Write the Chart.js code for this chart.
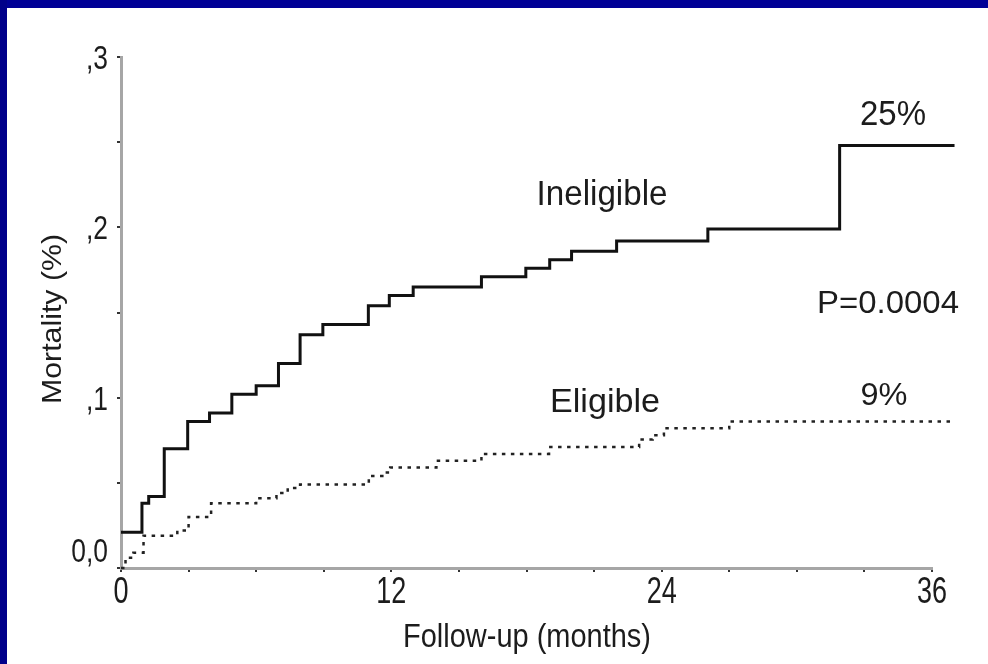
<!DOCTYPE html>
<html>
<head>
<meta charset="utf-8">
<script src="https://cdn.jsdelivr.net/npm/chart.js@4.4.0/dist/chart.umd.min.js"></script>
<style>
  html, body { margin: 0; padding: 0; background: #fff; overflow: hidden; }
  #km-chart { display: block; }
</style>
</head>
<body>
<canvas id="km-chart" width="988" height="664"></canvas>
<script>
// Kaplan-Meier mortality (months, cumulative mortality)
const ineligibleMonths = [0, 0.93, 1.23, 1.92, 2.96, 3.93, 4.92, 6.0, 6.99, 7.95, 8.96, 10.98, 11.91, 12.97, 16.0, 17.97, 19.03, 20.0, 22.0, 26.05, 31.9, 37.0];
const ineligibleMortality = [0.021, 0.038, 0.042, 0.070, 0.086, 0.091, 0.102, 0.107, 0.120, 0.137, 0.143, 0.154, 0.160, 0.165, 0.171, 0.176, 0.181, 0.186, 0.192, 0.199, 0.248, 0.248];

const eligibleMonths = [0, 0.2, 0.55, 1.0, 2.5, 3.0, 4.0, 6.0, 6.9, 7.4, 7.95, 11.0, 11.6, 11.95, 14.0, 16.0, 19.0, 23.0, 23.6, 24.1, 27.0, 37.0];
const eligibleMortality = [0, 0.006, 0.009, 0.019, 0.022, 0.030, 0.038, 0.041, 0.044, 0.047, 0.049, 0.054, 0.056, 0.059, 0.063, 0.067, 0.071, 0.0755, 0.078, 0.082, 0.086, 0.086];

const xTickLabels = [0, 12, 24, 36];
const yTickLabels = [0, 0.1, 0.2, 0.3];

const toPoints = (xs, ys) => xs.map((x, i) => ({ x: x, y: ys[i] }));

const FONT = '"Liberation Sans", Arial, sans-serif';

// canvas text, squeezed or stretched sideways to fit the old scanned look
function drawText(ctx, str, x, y, size, opts) {
  ctx.save();
  ctx.font = size + 'px ' + FONT;
  const w = ctx.measureText(str).width;
  const sx = opts.width ? opts.width / w : (opts.sx || 1);
  ctx.translate(x, y);
  if (opts.rotate) ctx.rotate(opts.rotate);
  ctx.scale(sx, 1);
  ctx.textAlign = opts.align || 'center';
  ctx.textBaseline = 'alphabetic';
  ctx.fillStyle = '#1c1c1c';
  ctx.fillText(str, 0, 0);
  ctx.restore();
}

const frame = {
  id: 'frame',
  beforeDraw(chart) {
    const ctx = chart.ctx;
    ctx.save();
    ctx.fillStyle = '#ffffff';
    ctx.fillRect(0, 0, chart.width, chart.height);
    ctx.fillStyle = '#000096';
    ctx.fillRect(0, 0, chart.width, 8);
    ctx.fillStyle = '#00008a';
    ctx.fillRect(0, 0, 7, chart.height);
    ctx.restore();
  }
};

const labels = {
  id: 'labels',
  afterDraw(chart) {
    const ctx = chart.ctx;
    const xs = chart.scales.x, ys = chart.scales.y;

    xTickLabels.forEach(v => {
      drawText(ctx, String(v), xs.getPixelForValue(v), 603, 36, { sx: 0.75 });
    });
    yTickLabels.forEach(v => {
      const txt = v === 0 ? '0,0' : ',' + Math.round(v * 10);
      const dy = v === 0 ? -6 : 12;
      drawText(ctx, txt, 108, ys.getPixelForValue(v) + dy, 33, { sx: 0.8, align: 'right' });
    });

    drawText(ctx, 'Mortality (%)', 61, 319, 28, { width: 170, rotate: -Math.PI / 2 });
    drawText(ctx, 'Follow-up (months)', 527, 647, 33, { width: 248 });

    drawText(ctx, '25%', 893, 125, 35, { width: 66 });
    drawText(ctx, 'Ineligible', 602, 205, 35, { width: 131 });
    drawText(ctx, 'P=0.0004', 888, 313, 32, { width: 142 });
    drawText(ctx, 'Eligible', 605, 412, 34, { width: 110 });
    drawText(ctx, '9%', 884, 405, 31, { width: 47 });
  }
};

const data = {
  datasets: [{
    label: 'Ineligible',
    data: toPoints(ineligibleMonths, ineligibleMortality),
    borderColor: '#111111',
    borderWidth: 3,
    stepped: true,
    pointRadius: 0,
    fill: false,
    clip: false
  }, {
    label: 'Eligible',
    data: toPoints(eligibleMonths, eligibleMortality),
    borderColor: '#222222',
    borderWidth: 2.5,
    borderDash: [3.5, 5.5],
    stepped: true,
    pointRadius: 0,
    fill: false,
    clip: false
  }]
};

const axisGrid = {
  drawOnChartArea: false,
  drawTicks: true,
  tickLength: 4,
  color: '#333333',
  lineWidth: 2
};

const config = {
  type: 'line',
  data: data,
  options: {
    responsive: false,
    animation: false,
    devicePixelRatio: 1,
    layout: { padding: { left: 117, right: 56, top: 57, bottom: 92 } },
    plugins: {
      legend: { display: false },
      tooltip: { enabled: false }
    },
    scales: {
      x: {
        type: 'linear',
        min: 0,
        max: 36,
        ticks: { stepSize: 3, display: false },
        grid: axisGrid,
        border: { color: '#a6a6a6', width: 3 }
      },
      y: {
        min: 0,
        max: 0.3,
        ticks: { stepSize: 0.05, display: false },
        grid: axisGrid,
        border: { color: '#a6a6a6', width: 3 }
      }
    }
  },
  plugins: [frame, labels]
};

let obj = document.getElementById('km-chart');
let kmChart = new Chart(obj, config);
</script>
</body>
</html>
